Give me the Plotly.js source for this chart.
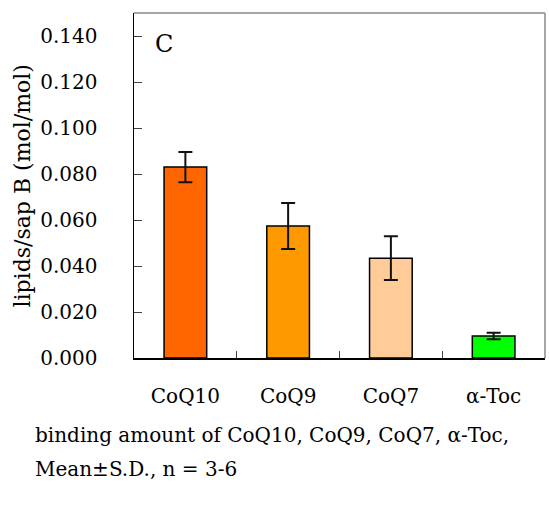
<!DOCTYPE html>
<html>
<head>
<meta charset="utf-8">
<script src="https://cdn.plot.ly/plotly-3.0.1.min.js"></script>
<style>html,body{margin:0;padding:0;background:#fff;}#chart{width:549px;height:506px;}</style>
</head>
<body>
<div id="chart"></div>
<script>
const categories = ["CoQ10", "CoQ9", "CoQ7", "α-Toc"];
const means = [0.0830, 0.0574, 0.0434, 0.0096];
const sds = [0.0066, 0.0100, 0.0095, 0.0014];
const barColors = ["#FF6600", "#FF9900", "#FFCC99", "#00FF00"];
const yTickVals = [0, 0.02, 0.04, 0.06, 0.08, 0.10, 0.12, 0.14];
const yTickText = ["0.000", "0.020", "0.040", "0.060", "0.080", "0.100", "0.120", "0.140"];

const FONT = "DejaVu Serif, Liberation Serif, serif";

const trace = {
  type: "bar",
  x: categories,
  y: means,
  width: 0.415,
  marker: { color: barColors, line: { color: "#000", width: 1.5 } },
  error_y: { type: "data", array: sds, visible: true, color: "#111", thickness: 2, width: 7 },
  hoverinfo: "skip"
};

const layout = {
  width: 549, height: 506,
  margin: { l: 134, r: 4, t: 13, b: 148 },
  paper_bgcolor: "#fff", plot_bgcolor: "#fff",
  showlegend: false,
  font: { family: FONT, color: "#000", size: 20 },
  xaxis: {
    type: "category",
    range: [-0.5, 3.5],
    showline: true, linecolor: "#000", linewidth: 1.5,
    ticks: "inside", ticklen: 7, tickwidth: 1, tickcolor: "#444",
    tickson: "boundaries",
    showgrid: false, zeroline: false,
    ticklabelstandoff: 19,
    tickfont: { family: FONT, size: 20, color: "#000" }
  },
  yaxis: {
    range: [0, 0.15],
    tickvals: yTickVals, ticktext: yTickText,
    showline: true, linecolor: "#000", linewidth: 1.5,
    ticks: "inside", ticklen: 8, tickwidth: 1, tickcolor: "#444",
    showgrid: false, zeroline: false,
    ticklabelstandoff: 31,
    tickfont: { family: FONT, size: 20, color: "#000" }
  },
  shapes: [
    { type: "line", xref: "paper", yref: "paper", x0: 0, x1: 1, y0: 1, y1: 1, line: { color: "#888", width: 1.5 } },
    { type: "line", xref: "paper", yref: "paper", x0: 1, x1: 1, y0: 0, y1: 1, line: { color: "#888", width: 1.5 } }
  ],
  annotations: [
    { text: "lipids/sap B (mol/mol)", textangle: -90, xref: "paper", yref: "paper",
      x: -0.27, y: 0.497, xanchor: "center", yanchor: "middle", showarrow: false,
      font: { family: FONT, size: 22, color: "#000" } },
    { text: "C", xref: "paper", yref: "paper", x: 0.072, y: 0.91, xanchor: "center", yanchor: "middle",
      showarrow: false, font: { family: FONT, size: 24, color: "#000" } },
    { text: "binding amount of CoQ10, CoQ9, CoQ7, α-Toc,", xref: "paper", yref: "paper",
      x: -0.245, y: -0.222, xanchor: "left", yanchor: "middle", showarrow: false,
      font: { family: FONT, size: 20, color: "#000" } },
    { text: "Mean±S.D., n = 3-6", xref: "paper", yref: "paper",
      x: -0.245, y: -0.322, xanchor: "left", yanchor: "middle", showarrow: false,
      font: { family: FONT, size: 20, color: "#000" } }
  ]
};

Plotly.newPlot("chart", [trace], layout, { displayModeBar: false, staticPlot: true });
</script>
</body>
</html>
